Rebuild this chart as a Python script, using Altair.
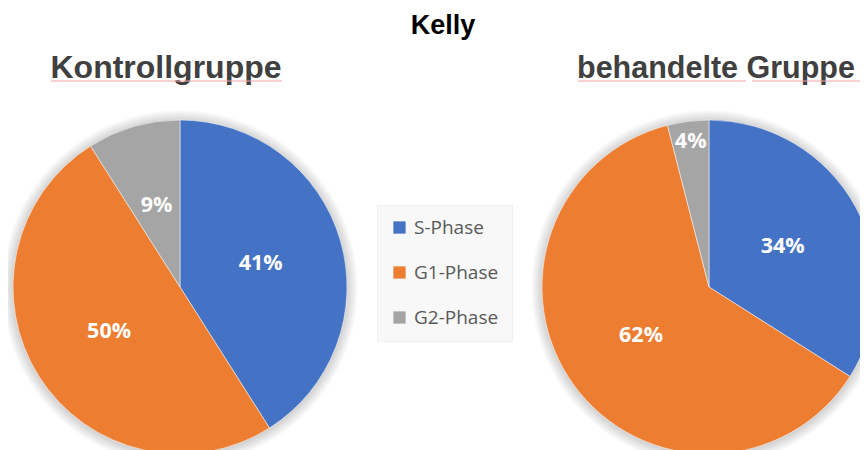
import altair as alt
import pandas as pd

phases = ["S-Phase", "G1-Phase", "G2-Phase"]
kontroll = [41, 50, 9]
behandelt = [34, 62, 4]
colors = ["#4472C4", "#ED7D31", "#A5A5A5"]
group_titles = ["Kontrollgruppe", "behandelte Gruppe"]
main_title = "Kelly"

rows = []
for g, vals in zip(group_titles, [kontroll, behandelt]):
    for i, (p, v) in enumerate(zip(phases, vals)):
        rows.append({"group": g, "phase": p, "value": v, "order": i, "label": f"{v}%"})
df = pd.DataFrame(rows)

W, H = 852, 442
OFF = 8  # page margin
R = 167
centers = {"Kontrollgruppe": (180 - OFF, 287 - OFF), "behandelte Gruppe": (709 - OFF, 287 - OFF)}

color_scale = alt.Scale(domain=phases, range=colors)

layers = []
for gi, g in enumerate(group_titles):
    cx, cy = centers[g]
    # soft shadow rings
    for k in range(1, 12):
        layers.append(
            alt.Chart(pd.DataFrame({"g": [g]})).mark_arc(
                fill="#000000", opacity=0.014, outerRadius=R + k, innerRadius=0
            ).encode(
                x=alt.value(cx), y=alt.value(cy + 1),
                theta=alt.value(0), theta2=alt.value(6.2832),
            )
        )
    base = alt.Chart(df).transform_filter(alt.datum.group == g)
    legend = alt.Legend(
        title=None, orient="none", legendX=377 - OFF, legendY=205 - OFF,
        symbolType="square", symbolSize=150, symbolStrokeWidth=0,
        labelFont="Open Sans", labelFontSize=19, labelColor="#595959",
        rowPadding=25, padding=13, fillColor="#f8f8f8",
        strokeColor="#f0f0f0", labelOffset=5,
    )
    color_kwargs = dict(scale=color_scale, sort=phases)
    if gi == 0:
        color_kwargs["legend"] = legend
    pie = base.mark_arc(outerRadius=R, stroke="#ffffff", strokeWidth=0.5).encode(
        theta=alt.Theta("value:Q", stack=True),
        color=alt.Color("phase:N", **color_kwargs),
        order=alt.Order("order:Q"),
        x=alt.value(cx), y=alt.value(cy),
    )
    text = base.transform_window(
        cum="sum(value)", sort=[alt.SortField("order")], frame=[None, 0]
    ).transform_joinaggregate(
        total="sum(value)"
    ).transform_calculate(
        ang="2 * PI * (datum.cum - datum.value / 2) / datum.total",
        lr="datum.value < 5 ? 146 : 84",
    ).mark_text(
        font="Open Sans", fontWeight="bold", fontSize=21.5, color="white",
        align="center", baseline="middle",
    ).encode(
        theta=alt.Theta("ang:Q", scale=None, stack=None),
        radius=alt.Radius("lr:Q", scale=None),
        text="label:N",
        x=alt.value(cx), y=alt.value(cy),
    )
    layers += [pie, text]

# titles
layers.append(
    alt.Chart(pd.DataFrame({"t": [main_title]})).mark_text(
        font="Liberation Sans", fontWeight="bold", fontSize=27, color="#000000",
        align="center", baseline="alphabetic",
    ).encode(text="t:N", x=alt.value(443 - OFF), y=alt.value(34 - OFF))
)
sub_pos = {"Kontrollgruppe": (166, "center", 32), "behandelte Gruppe": (577, "left", 30.5)}
for g in group_titles:
    px, al, fs = sub_pos[g]
    layers.append(
        alt.Chart(pd.DataFrame({"t": [g]})).mark_text(
            font="Liberation Sans", fontWeight="bold", fontSize=fs, color="#404040",
            align=al, baseline="alphabetic",
        ).encode(text="t:N", x=alt.value(px - OFF), y=alt.value(78 - OFF))
    )

# spell-check style underlines
underlines = [(51, 282), (578, 746), (752, 860)]
for x1, x2 in underlines:
    layers.append(
        alt.Chart(pd.DataFrame({"u": [0]})).mark_rule(color="#f2a5a5", strokeWidth=1).encode(
            x=alt.value(x1 - OFF), x2=alt.value(x2 - OFF), y=alt.value(81 - OFF)
        )
    )

chart = alt.layer(*layers).resolve_scale(theta="independent").properties(
    width=W, height=H,
    autosize=alt.AutoSizeParams(type="none"),
    padding=0,
).configure_view(stroke=None)

chart.save("out.html", embed_options={"renderer": "svg", "actions": False})
